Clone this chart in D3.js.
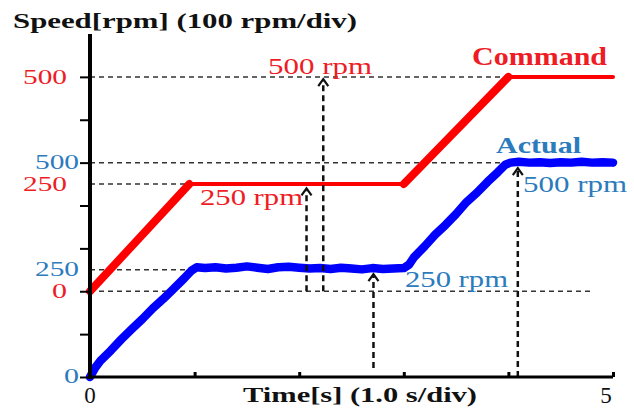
<!DOCTYPE html>
<html>
<head>
<meta charset="utf-8">
<script src="https://cdn.jsdelivr.net/npm/d3@7"></script>
<style>
  html, body { margin: 0; padding: 0; background: #fff; }
  svg, svg text { font-family: 'Liberation Serif', 'Times New Roman', Times, serif; }
</style>
</head>
<body>
<div id="chart"></div>
<script>
// Speed command vs. actual speed (oscilloscope-style trace)

// Command speed [rpm], plotted on the red (offset) scale
const commandTime = [0, 0.95, 3.0, 4.0, 5.0];
const commandRpm = [0, 250, 250, 500, 500];

// Actual speed [rpm], plotted on the blue scale
const actualTime = [
  0, 0.05, 0.1, 0.2, 0.3, 0.4, 0.5, 0.6, 0.7, 0.8, 0.9, 0.97, 1.02,
  1.1, 1.2, 1.3, 1.4, 1.5, 1.6, 1.7, 1.8, 1.9, 2.0, 2.1, 2.2, 2.3, 2.4, 2.5, 2.6, 2.7, 2.8, 2.9, 3.0,
  3.05, 3.1, 3.2, 3.3, 3.4, 3.5, 3.6, 3.7, 3.8, 3.9, 3.97, 4.02,
  4.1, 4.2, 4.3, 4.4, 4.5, 4.6, 4.7, 4.8, 4.9, 5.0,
];
const actualRpm = [
  0, 22, 38, 62, 88, 112, 135, 160, 182, 206, 230, 248, 256,
  254, 256, 253, 255, 258, 255, 252, 256, 257, 255, 253, 254, 252, 255, 253, 251, 254, 252, 253, 254,
  262, 280, 305, 332, 355, 380, 408, 430, 455, 478, 495, 500,
  502, 500, 501, 499, 501, 500, 502, 500, 501, 500,
];

// Tick labels on the speed axis: value on its own scale, and which scale
const yLabelValues = [0, 250, 500, 0, 250, 500];
const yLabelSeries = ['actual', 'actual', 'actual', 'command', 'command', 'command'];
const xTickValues = [0, 1, 2, 3, 4, 5];
const xTickLabels = ['0', '', '', '', '', '5'];

// Dashed reference lines: level, scale, and time where they stop
const refLevels = [500, 500, 250, 250, 0];
const refSeries = ['command', 'actual', 'command', 'actual', 'command'];
const refEndTime = [4.0, 4.0, 0.95, 1.02, 4.81];

// Measurement arrows: time, start level, end level, scale of those levels
const arrowTime = [2.07, 2.23, 2.71, 4.09];
const arrowFrom = [0, 0, 21, 0];
const arrowTo = [240, 495, 240, 487];
const arrowSeries = ['command', 'command', 'actual', 'actual'];

const width = 634;
const height = 410;
const margin = { top: 34, right: 21, bottom: 33, left: 90 };

const RED = '#ee1c25';
const RED_LINE = '#ff0000';
const BLUE_TEXT = '#2b7bbd';
const BLUE_LINE = '#0000ff';
const FONT = "'Liberation Serif', 'Times New Roman', Times, serif";

const svg = d3.select('#chart').append('svg').attr('width', width).attr('height', height);

const x = d3.scaleLinear().domain([0, 5]).range([margin.left, width - margin.right]);

// Both traces share the plot, the command trace is shifted up by 200 rpm
const yScales = {
  actual: d3.scaleLinear().domain([0, 800]).range([height - margin.bottom, margin.top]),
  command: d3.scaleLinear().domain([-200, 600]).range([height - margin.bottom, margin.top]),
};
const yA = yScales.actual;

// Reference dashed lines
svg
  .append('g')
  .attr('class', 'ref-lines')
  .selectAll('line')
  .data(refLevels)
  .join('line')
  .attr('x1', x(0))
  .attr('x2', (d, i) => x(refEndTime[i]))
  .attr('y1', (d, i) => yScales[refSeries[i]](d))
  .attr('y2', (d, i) => yScales[refSeries[i]](d))
  .attr('stroke', '#333')
  .attr('stroke-width', 1.5)
  .attr('stroke-dasharray', '5,4');

// Command trace, ramps drawn heavier than the flat parts
const cmdSegments = d3.pairs(commandTime.map((t, i) => [t, commandRpm[i]]));
svg
  .append('g')
  .attr('class', 'command')
  .selectAll('line')
  .data(cmdSegments)
  .join('line')
  .attr('x1', (d) => x(d[0][0]))
  .attr('y1', (d) => yScales.command(d[0][1]))
  .attr('x2', (d) => x(d[1][0]))
  .attr('y2', (d) => yScales.command(d[1][1]))
  .attr('stroke', RED_LINE)
  .attr('stroke-linecap', 'round')
  .attr('stroke-width', (d) => (d[0][1] === d[1][1] ? 4 : 8));

// Actual trace
const actualLine = d3
  .line()
  .x((d) => x(d[0]))
  .y((d) => yA(d[1]));

svg
  .append('path')
  .datum(actualTime.map((t, i) => [t, actualRpm[i]]))
  .attr('class', 'actual')
  .attr('d', actualLine)
  .attr('fill', 'none')
  .attr('stroke', BLUE_LINE)
  .attr('stroke-width', 8.5)
  .attr('stroke-linejoin', 'round')
  .attr('stroke-linecap', 'round');

// Arrows
const arrows = svg.append('g').attr('class', 'arrows');
arrowTime.forEach((t, i) => {
  const ys = yScales[arrowSeries[i]];
  const xp = x(t);
  const y0 = ys(arrowFrom[i]);
  const y1 = ys(arrowTo[i]);
  arrows
    .append('line')
    .attr('x1', xp)
    .attr('x2', xp)
    .attr('y1', y0)
    .attr('y2', y1 + 2)
    .attr('stroke', '#111')
    .attr('stroke-width', 2.5)
    .attr('stroke-dasharray', '6,4');
  arrows
    .append('path')
    .attr('d', `M${xp - 5},${y1 + 7} L${xp},${y1} L${xp + 5},${y1 + 7}`)
    .attr('fill', 'none')
    .attr('stroke', '#111')
    .attr('stroke-width', 2.2);
});

// Axes
const axisG = svg.append('g').attr('class', 'axes');

axisG
  .append('g')
  .attr('transform', `translate(0,${height - margin.bottom})`)
  .call(d3.axisTop(x).tickValues(xTickValues).tickSize(5).tickFormat(''))
  .call((g) => g.select('.domain').attr('stroke-width', 3).attr('d', `M${x(0)},0H${x(5)}`))
  .call((g) => g.selectAll('.tick line').attr('stroke-width', 3));

axisG
  .append('g')
  .attr('transform', `translate(${margin.left},0)`)
  .call(d3.axisLeft(yA).tickValues(d3.range(0, 800, 100)).tickSize(10).tickFormat(''))
  .call((g) => g.select('.domain').attr('stroke-width', 4).attr('d', `M0,${yA(0) + 2}V${yA(800)}`))
  .call((g) => g.selectAll('.tick line').attr('stroke-width', 2));

// Speed axis labels
svg
  .append('g')
  .attr('class', 'y-labels')
  .selectAll('text')
  .data(yLabelValues)
  .join('text')
  .attr('x', (d, i) => (yLabelSeries[i] === 'actual' ? 79 : 67))
  .attr('y', (d, i) => yScales[yLabelSeries[i]](d) + (yLabelSeries[i] === 'actual' ? 6 : 7))
  .attr('text-anchor', 'end')
  .attr('font-family', FONT)
  .attr('font-size', 20)
  .attr('fill', (d, i) => (yLabelSeries[i] === 'actual' ? BLUE_TEXT : RED))
  .attr('textLength', (d) => (String(d).length === 1 ? 15 : 44))
  .attr('lengthAdjust', 'spacingAndGlyphs')
  .text((d) => d);

// Time axis labels
svg
  .append('g')
  .attr('class', 'x-labels')
  .selectAll('text')
  .data(xTickValues.filter((d, i) => xTickLabels[i]))
  .join('text')
  .attr('x', (d) => x(d) + (d === 0 ? 0 : -7))
  .attr('y', 403)
  .attr('text-anchor', 'middle')
  .attr('font-family', FONT)
  .attr('font-size', 23)
  .attr('fill', '#111')
  .text((d) => xTickLabels[xTickValues.indexOf(d)]);

// Titles and annotations
const texts = [
  { t: 'Speed[rpm] (100 rpm/div)', x: 13, y: 28, len: 344, size: 22, bold: true, c: '#111' },
  { t: 'Time[s] (1.0 s/div)', x: 243, y: 402, len: 234, size: 22, bold: true, c: '#111' },
  { t: 'Command', x: 472, y: 65, len: 135, size: 25, bold: true, c: RED },
  { t: 'Actual', x: 496, y: 153, len: 85, size: 24, bold: true, c: BLUE_TEXT },
  { t: '500 rpm', x: 268, y: 74, len: 104, size: 23, c: RED },
  { t: '250 rpm', x: 200, y: 205, len: 103, size: 23, c: RED },
  { t: '250 rpm', x: 405, y: 287, len: 103, size: 23, c: BLUE_TEXT },
  { t: '500 rpm', x: 523, y: 192, len: 104, size: 23, c: BLUE_TEXT },
];

svg
  .append('g')
  .attr('class', 'labels')
  .selectAll('text')
  .data(texts)
  .join('text')
  .attr('x', (d) => d.x)
  .attr('y', (d) => d.y)
  .attr('font-family', FONT)
  .attr('font-size', (d) => d.size)
  .attr('font-weight', (d) => (d.bold ? 'bold' : 'normal'))
  .attr('fill', (d) => d.c)
  .attr('textLength', (d) => d.len)
  .attr('lengthAdjust', 'spacingAndGlyphs')
  .text((d) => d.t);
</script>
</body>
</html>
